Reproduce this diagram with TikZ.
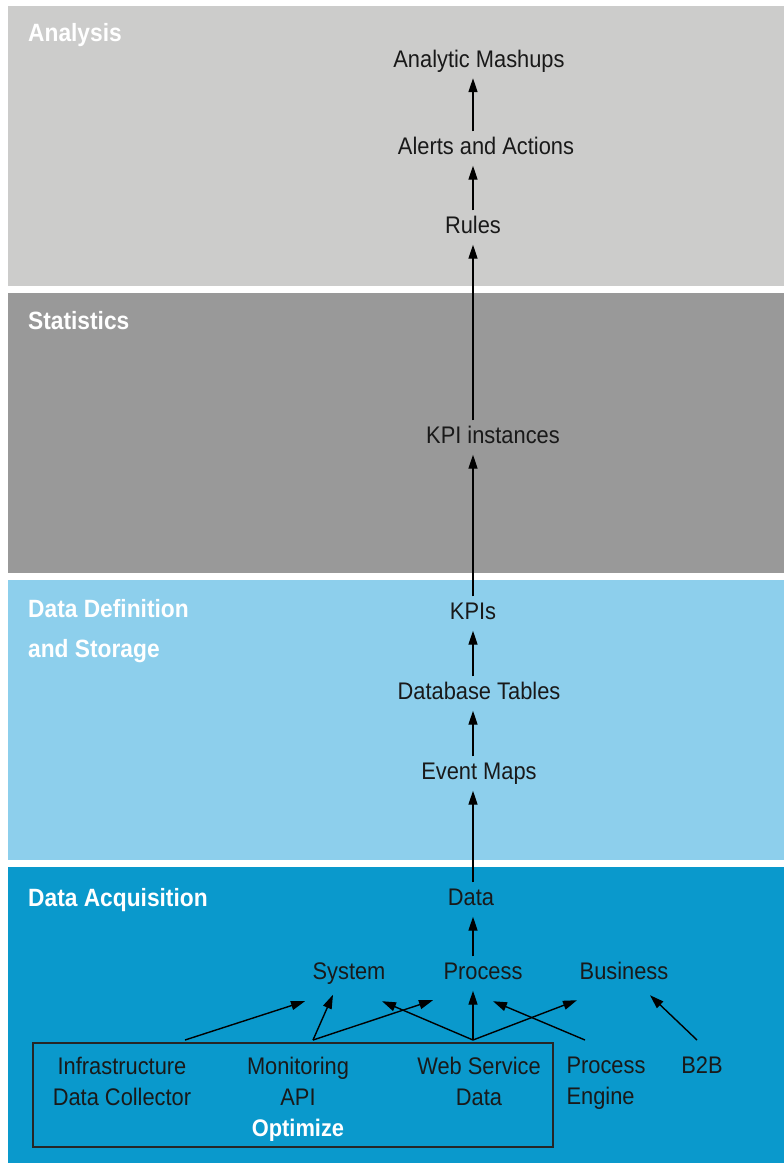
\documentclass[tikz,border=0pt]{standalone}
\usepackage{fontspec}
\setmainfont[FakeStretch=0.91]{Liberation Sans}
\usetikzlibrary{arrows.meta}
\definecolor{analysisgray}{HTML}{CCCCCB}
\definecolor{statsgray}{HTML}{999999}
\definecolor{storeblue}{HTML}{8DCFEC}
\definecolor{acqblue}{HTML}{0A99CC}
\begin{document}
\begin{tikzpicture}[x=1pt, y=-1pt,
    lbl/.style={anchor=base, inner sep=6pt, text height=17pt, text depth=5pt,
        font=\fontsize{24}{31}\selectfont, text=black!90},
    title/.style={anchor=north west, inner sep=0pt, text=white, align=left,
        font=\bfseries\fontsize{25}{40}\selectfont},
    src/.style={anchor=north, inner sep=0pt, align=center,
        font=\fontsize{24}{31}\selectfont, text=black!90},
    up/.style={-{Triangle[length=14pt,width=9pt]}, line width=1.4pt}]
        \useasboundingbox (0,0) rectangle (784,1163);
        \fill[white] (0,0) rectangle (784,1163);
        % layers
        \fill[analysisgray] (8,6) rectangle (784,286);
        \fill[statsgray] (8,293) rectangle (784,573);
        \fill[storeblue] (8,580) rectangle (784,860);
        \fill[acqblue] (8,867) rectangle (784,1163);
        \node[title] (tanalysis) at (28,23) {Analysis};
        \node[title] (tstats) at (28,311) {Statistics};
        \node[title] (tstore) at (28,599) {Data Definition\\and Storage};
        \node[title] (tacq) at (28,888) {Data Acquisition};
        % main chain
        \coordinate (spine) at (473,0);
        \node[lbl] (mashups) at (479,67) {Analytic Mashups};
        \node[lbl] (alerts) at (486,154.5) {Alerts and Actions};
        \node[lbl] (rules) at (473,233.5) {Rules};
        \node[lbl] (kpiinst) at (493,443.5) {KPI instances};
        \node[lbl] (kpis) at (473,619.5) {KPIs};
        \node[lbl] (dbtables) at (479,699.5) {Database Tables};
        \node[lbl] (eventmaps) at (479,779.5) {Event Maps};
        \node[lbl] (data) at (471,905.5) {Data};
        \node[lbl] (system) at (349,979.5) {System};
        \node[lbl] (process) at (483,979.5) {Process};
        \node[lbl] (business) at (624,979.5) {Business};
        \draw[up] (alerts.north -| spine) -- (mashups.south -| spine);
        \draw[up] (rules.north -| spine) -- (alerts.south -| spine);
        \draw[up] (kpiinst.north -| spine) -- (rules.south -| spine);
        \draw[up] (kpis.north -| spine) -- (kpiinst.south -| spine);
        \draw[up] (dbtables.north -| spine) -- (kpis.south -| spine);
        \draw[up] (eventmaps.north -| spine) -- (dbtables.south -| spine);
        \draw[up] (data.north -| spine) -- (eventmaps.south -| spine);
        \draw[up] (process.north -| spine) -- (data.south -| spine);
        % sources
        \draw[line width=1.4pt, black!85] (33,1043) rectangle (553,1147);
        \node[src] (infra) at (122,1057) {Infrastructure\\Data Collector};
        \node[src] (monitor) at (298,1057) {Monitoring\\API};
        \node[src] (websvc) at (479,1057) {Web Service\\Data};
        \node[src, align=left] (engine) at (606,1057) {Process\\Engine};
        \node[src] (btob) at (702,1057) {B2B};
        \node[src, text=white, font=\bfseries\fontsize{24}{31}\selectfont] (optimize) at (298,1119) {Optimize};
        \draw[up] ([shift={(63,-17)}]infra.north) -- ([shift={(-44,10.5)}]system.south);
        \draw[up] ([shift={(15,-17)}]monitor.north) -- ([shift={(-16,4)}]system.south);
        \draw[up] ([shift={(15,-17)}]monitor.north) -- ([shift={(-50,9.5)}]process.south);
        \draw[up] ([shift={(-6,-17)}]websvc.north) -- ([shift={(33,10.5)}]system.south);
        \draw[up] ([shift={(-6,-17)}]websvc.north) -- (process.south -| spine);
        \draw[up] ([shift={(-6,-17)}]websvc.north) -- ([shift={(-47,9.5)}]business.south);
        \draw[up] ([shift={(-21,-17)}]engine.north) -- ([shift={(10,10.5)}]process.south);
        \draw[up] ([shift={(-5,-17)}]btob.north) -- ([shift={(26,4.5)}]business.south);
\end{tikzpicture}
\end{document}
